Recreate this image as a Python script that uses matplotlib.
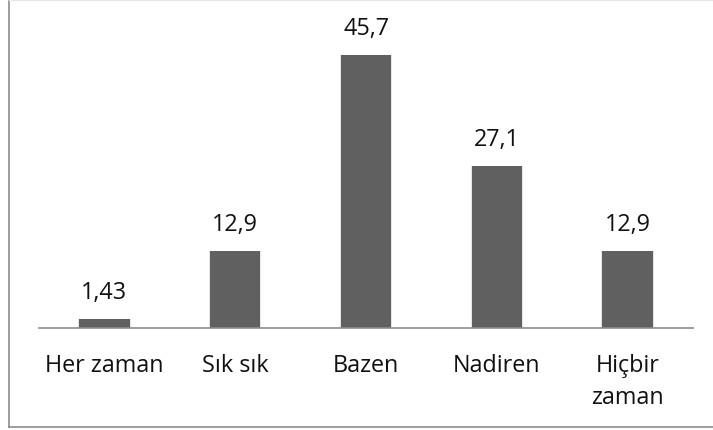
import matplotlib
matplotlib.use('Agg')
import matplotlib.pyplot as plt
from matplotlib.lines import Line2D

# Veriler
kategoriler = ['Her zaman', 'Sık sık', 'Bazen', 'Nadiren', 'Hiçbir\nzaman']
degerler = [1.43, 12.9, 45.7, 27.1, 12.9]
etiketler = ['1,43', '12,9', '45,7', '27,1', '12,9']

plt.rcParams['font.family'] = ['Open Sans', 'DejaVu Sans']

fig = plt.figure(figsize=(7.13, 4.30), dpi=100)
ax = fig.add_axes([39 / 713, 102 / 430, 654 / 713, 298.5 / 430])

x = range(len(kategoriler))
# hafif gölge efekti
ax.bar(x, degerler, width=0.40, color='#e6e6e6', zorder=1)
ax.bar(x, degerler, width=0.385, color='#606060', zorder=2)

for xi, v, t in zip(x, degerler, etiketler):
    ax.annotate(t, (xi, v), xytext=(0, 14.5), textcoords='offset points',
                ha='center', va='baseline', fontsize=16.8, color='#111111')

ax.set_xlim(-0.5, len(kategoriler) - 0.5)
ax.set_ylim(0, 50)
ax.set_xticks(list(x))
ax.set_xticklabels(kategoriler, fontsize=16.8, color='#111111', linespacing=1.4)
ax.tick_params(axis='x', length=0, pad=19)
ax.set_yticks([])
for s in ['top', 'right', 'left']:
    ax.spines[s].set_visible(False)
ax.spines['bottom'].set_color('#8c8c8c')
ax.spines['bottom'].set_linewidth(1.2)

# dış çerçeve
fig.add_artist(Line2D([9 / 713, 9 / 713], [3 / 430, 1], color='#8c8c8c', lw=1.2))
fig.add_artist(Line2D([9 / 713, 1], [3 / 430, 3 / 430], color='#8c8c8c', lw=1.2))
fig.add_artist(Line2D([9 / 713, 1], [0.999, 0.999], color='#e8e8e8', lw=1))

fig.savefig('out.png', dpi=100)
